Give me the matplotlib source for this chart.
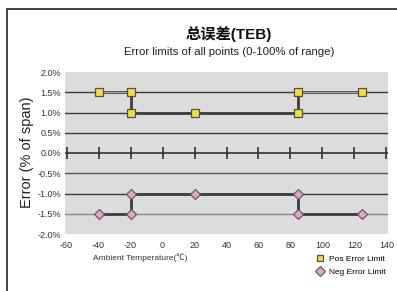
import numpy as np
import matplotlib
matplotlib.use("Agg")
import matplotlib.pyplot as plt
from matplotlib.patches import Rectangle

plt.rcParams['font.family'] = ['Liberation Sans', 'Noto Sans CJK SC', 'DejaVu Sans']

# data
temps_pos = [-40, -20, -20, 85, 85, 125]
pos_limit = [1.5, 1.5, 1.0, 1.0, 1.5, 1.5]
temps_neg = [-40, -20, -20, 85, 85, 125]
neg_limit = [-1.5, -1.5, -1.0, -1.0, -1.5, -1.5]
# marker points (the middle point at 20 too)
pos_mark_x = [-40, -20, -20, 20, 85, 85, 125]
pos_mark_y = [1.5, 1.5, 1.0, 1.0, 1.0, 1.5, 1.5]
neg_mark_x = [-40, -20, -20, 20, 85, 85, 125]
neg_mark_y = [-1.5, -1.5, -1.0, -1.0, -1.0, -1.5, -1.5]

x_ticks = [-60, -40, -20, 0, 20, 40, 60, 80, 100, 120, 140]
y_ticks = [2.0, 1.5, 1.0, 0.5, 0.0, -0.5, -1.0, -1.5, -2.0]
grid_y = [1.5, 1.0, 0.5, -0.5, -1.0, -1.5]
grid_col = ['#3a3a3a', '#3a3a3a', '#3a3a3a', '#555555', '#3a3a3a', '#888888']

fig = plt.figure(figsize=(3.97, 2.91), dpi=100)
ax = fig.add_axes([65/397, 1-234/291, 323/397, 162/291])
ax.set_facecolor('#dcdcdc')
ax.set_xlim(-61, 141)
ax.set_ylim(-2, 2)
for s in ax.spines.values():
    s.set_visible(False)

for gy, gc in zip(grid_y, grid_col):
    ax.axhline(gy, color=gc, lw=1.0, zorder=1)

# zero line with tick marks
ax.axhline(0, color='#333333', lw=1.2, zorder=1)
ax.plot(x_ticks, np.zeros(len(x_ticks)), ls='none', marker='|', ms=8,
        mew=1.2, color='#333333', zorder=2)

# series lines
ax.plot(temps_pos, pos_limit, color='#3c3c3c', lw=2.0, zorder=3)
pos_hi = np.ma.masked_where(np.array(pos_limit) != 1.5, pos_limit)
ax.plot(temps_pos, pos_hi, color='#a8a8a8', lw=1.0, zorder=3)
ax.plot(temps_neg, neg_limit, color='#3c3c3c', lw=2.0, zorder=3)

ax.plot(pos_mark_x, pos_mark_y, ls='none', marker='s', ms=5.5,
        mfc='#f2e030', mec='#505050', mew=0.9, zorder=4, label='Pos Error Limit')
ax.plot(neg_mark_x, neg_mark_y, ls='none', marker='D', ms=5.5,
        mfc='#e8a0cc', mec='#606060', mew=0.9, zorder=4, label='Neg Error Limit')

ax.set_yticks(y_ticks)
ax.set_yticklabels(['%.1f%%' % v for v in y_ticks], fontsize=6.5, color='#333333')
ax.set_xticks(x_ticks)
ax.set_xticklabels([str(v) for v in x_ticks], fontsize=6.5, color='#333333')
ax.tick_params(length=0, pad=3)
ax.tick_params(axis='x', pad=5)

fig.text(229/397, 1-34/291, '总误差(TEB)', ha='center', va='center',
         fontsize=11, fontweight='bold', color='#111111')
fig.text(229/397, 1-52/291, 'Error limits of all points (0-100% of range)',
         ha='center', va='center', fontsize=8.2, color='#222222')
fig.text(27/397, 1-152/291, 'Error (% of span)', rotation=90, ha='center',
         va='center', fontsize=10.5, color='#222222')
fig.text(140/397, 1-258/291, 'Ambient Temperature(℃)', ha='center', va='center',
         fontsize=6, color='#333333')

ax.legend(loc='upper right', bbox_to_anchor=(391/397, 1-250/291),
          bbox_transform=fig.transFigure, frameon=False, fontsize=6,
          handletextpad=0.6, labelspacing=0.6, handlelength=1.0,
          borderpad=0.1, markerscale=0.9)

# outer frame
fig.patches.append(Rectangle((7/397, -0.2), 1.2, 1.2 - 9/291, transform=fig.transFigure,
                             fill=False, ec='#222222', lw=1.2))

fig.savefig('out.png', dpi=100, facecolor='white')
